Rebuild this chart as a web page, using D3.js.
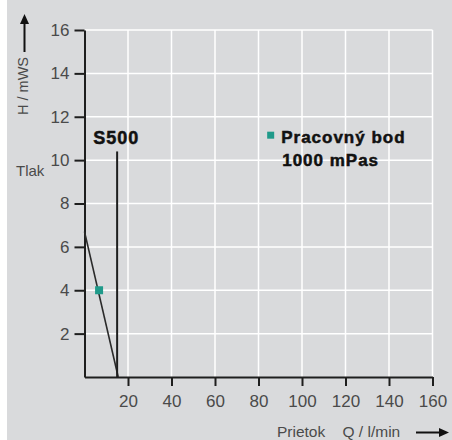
<!DOCTYPE html>
<html>
<head>
<meta charset="utf-8">
<script src="https://cdn.jsdelivr.net/npm/d3@7"></script>
<style>
  body { margin: 0; background: #fff; }
  svg { display: block; font-family: "Liberation Sans", Arial, sans-serif; }
</style>
</head>
<body>
<svg id="chart" width="452" height="440"></svg>
<script>
// chart data
const xTicks = [20, 40, 60, 80, 100, 120, 140, 160];
const yTicks = [2, 4, 6, 8, 10, 12, 14, 16];
const pipeLine = [{ q: 0, h: 6.7 }, { q: 15.5, h: 0 }];
const s500Line = [{ q: 15, h: 0 }, { q: 15, h: 10.4 }];
const workPoint = [{ q: 6.7, h: 4 }];
const legendPoint = [{ q: 85.6, h: 11.15 }];
const legendLines = ["Pracovný bod", "1000 mPas"];

var svg = d3.select("#chart");
var width = 452, height = 440;

var x = d3.scaleLinear().domain([0, 160]).range([84.5, 432.5]);
var y = d3.scaleLinear().domain([0, 16]).range([377, 30]);

// background
svg.append("rect")
  .attr("x", 7).attr("y", 0)
  .attr("width", width - 7).attr("height", height)
  .attr("fill", "#d9dadc");

// grid
svg.append("g").selectAll("line")
  .data(xTicks)
  .enter().append("line")
  .attr("x1", d => x(d)).attr("x2", d => x(d))
  .attr("y1", y(0)).attr("y2", y(16))
  .attr("stroke", "#fff").attr("stroke-width", 1.5);

svg.append("g").selectAll("line")
  .data(yTicks)
  .enter().append("line")
  .attr("x1", x(0)).attr("x2", x(160))
  .attr("y1", d => y(d)).attr("y2", d => y(d))
  .attr("stroke", "#fff").attr("stroke-width", 1.5);

// axes
var yAxis = svg.append("g")
  .attr("transform", "translate(" + x(0) + ",0)")
  .call(d3.axisLeft(y).tickValues(yTicks).tickSize(10).tickSizeOuter(0).tickPadding(5));

var xAxis = svg.append("g")
  .attr("transform", "translate(0," + y(0) + ")")
  .call(d3.axisBottom(x).tickValues(xTicks).tickSize(9).tickSizeOuter(0).tickPadding(9));

[xAxis, yAxis].forEach(function (a) {
  a.select(".domain").attr("stroke", "#1e1e1e").attr("stroke-width", 2);
  a.selectAll(".tick line").attr("stroke", "#1e1e1e").attr("stroke-width", 2);
  a.selectAll(".tick text")
    .attr("fill", "#4a4a4a")
    .style("font-size", "17px")
    .style("font-family", "'Liberation Sans', Arial, sans-serif");
});

// lines
var line = d3.line().x(d => x(d.q)).y(d => y(d.h));

svg.append("path")
  .datum(pipeLine)
  .attr("d", line)
  .attr("fill", "none")
  .attr("stroke", "#2a2a2a")
  .attr("stroke-width", 1.6);

svg.append("path")
  .datum(s500Line)
  .attr("d", line)
  .attr("fill", "none")
  .attr("stroke", "#1e1e1e")
  .attr("stroke-width", 2);

svg.append("text")
  .attr("x", x(s500Line[1].q) - 24)
  .attr("y", y(s500Line[1].h) - 7)
  .attr("font-weight", "bold")
  .attr("font-size", "18px")
  .attr("letter-spacing", "1px")
  .attr("fill", "#111")
  .attr("stroke", "#111")
  .attr("stroke-width", 0.5)
  .text("S500");

// working point
svg.selectAll(".wp")
  .data(workPoint)
  .enter().append("rect")
  .attr("class", "wp")
  .attr("x", d => x(d.q) - 4).attr("y", d => y(d.h) - 4)
  .attr("width", 8).attr("height", 8)
  .attr("fill", "#1f9a8a");

// legend
svg.selectAll(".lp")
  .data(legendPoint)
  .enter().append("rect")
  .attr("class", "lp")
  .attr("x", d => x(d.q) - 3.5).attr("y", d => y(d.h) - 3.5)
  .attr("width", 7).attr("height", 7)
  .attr("fill", "#1f9a8a");

svg.selectAll(".lt")
  .data(legendLines)
  .enter().append("text")
  .attr("class", "lt")
  .attr("x", (d, i) => x(legendPoint[0].q) + (i == 0 ? 10.5 : 11.5))
  .attr("y", (d, i) => y(legendPoint[0].h) + 8 + i * 23)
  .attr("font-weight", "bold")
  .attr("font-size", "17px")
  .attr("letter-spacing", "1px")
  .attr("fill", "#111")
  .attr("stroke", "#111")
  .attr("stroke-width", 0.5)
  .text(d => d);

// axis titles
svg.append("text")
  .attr("x", 16).attr("y", 176)
  .attr("font-size", "15px")
  .attr("fill", "#4a4a4a")
  .text("Tlak");

svg.append("text")
  .attr("transform", "translate(28,115) rotate(-90)")
  .attr("font-size", "14.5px")
  .attr("fill", "#4a4a4a")
  .text("H / mWS");

svg.append("line")
  .attr("x1", 24.5).attr("x2", 24.5)
  .attr("y1", 52).attr("y2", 22)
  .attr("stroke", "#111").attr("stroke-width", 2);
svg.append("path")
  .attr("d", "M24.5,14 L20,24 L29,24 Z")
  .attr("fill", "#111");

svg.append("text")
  .attr("x", 277).attr("y", 437)
  .attr("font-size", "15.5px")
  .attr("fill", "#4a4a4a")
  .text("Prietok");

svg.append("text")
  .attr("x", 342.5).attr("y", 437)
  .attr("font-size", "15.5px")
  .attr("fill", "#4a4a4a")
  .text("Q / l/min");

svg.append("line")
  .attr("x1", 416).attr("x2", 440)
  .attr("y1", 432.5).attr("y2", 432.5)
  .attr("stroke", "#111").attr("stroke-width", 2);
svg.append("path")
  .attr("d", "M449,432.5 L439,428 L439,437 Z")
  .attr("fill", "#111");
</script>
</body>
</html>
